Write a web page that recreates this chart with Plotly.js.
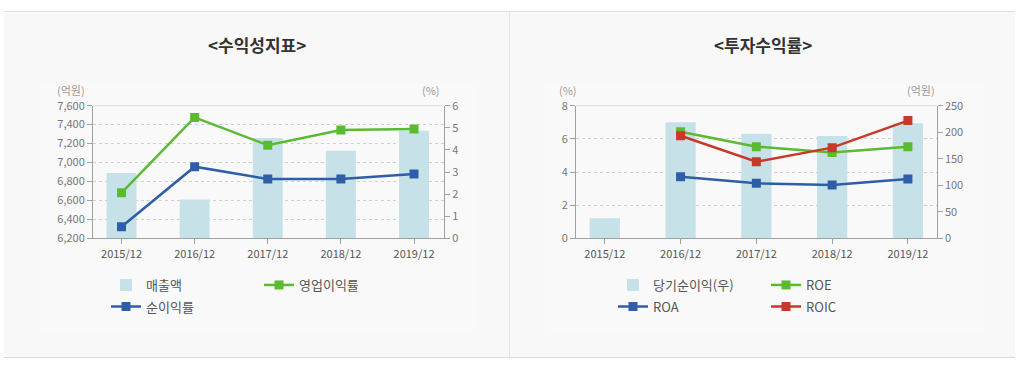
<!DOCTYPE html>
<html>
<head>
<meta charset="utf-8">
<script src="https://cdn.plot.ly/plotly-3.0.1.min.js"></script>
<style>html,body{margin:0;padding:0;background:#fff;}#chart{width:1023px;height:366px;}</style>
</head>
<body>
<div id="chart"></div>
<script>
// ---- data ----
var categories = ['2015/12', '2016/12', '2017/12', '2018/12', '2019/12'];
// 수익성지표
var sales = [6890, 6610, 7260, 7125, 7335];          // 매출액 (억원)
var opMargin = [2.06, 5.47, 4.21, 4.90, 4.95];       // 영업이익률 (%)
var netMargin = [0.52, 3.24, 2.68, 2.68, 2.91];      // 순이익률 (%)
// 투자수익률
var netIncome = [38, 219, 197, 193, 217];            // 당기순이익 (억원)
var roe = [null, 6.43, 5.53, 5.17, 5.53];
var roa = [null, 3.72, 3.32, 3.22, 3.58];
var roic = [null, 6.19, 4.62, 5.47, 7.10];

var W = 1023, H = 366;
function px(x) { return x / W; }
function py(y) { return 1 - y / H; }

var FONT = '"Noto Sans CJK KR", "Noto Sans", sans-serif';
var BAR = '#c6e2e8', GREEN = '#5bbb30', BLUE = '#2f5ea8', RED = '#c8392b';
var AX = '#a0a0a0';

function lineTrace(name, y, color, xa, ya, legend) {
  return {
    type: 'scatter', mode: 'lines+markers', name: name, x: categories, y: y,
    xaxis: xa, yaxis: ya, legend: legend,
    line: {color: color, width: 2.5},
    marker: {symbol: 'square', size: 9, color: color},
    connectgaps: false, hoverinfo: 'skip'
  };
}

var data = [
  {type: 'bar', name: '매출액', x: categories, y: sales, xaxis: 'x', yaxis: 'y',
   width: 0.41, marker: {color: BAR}, legend: 'legend', hoverinfo: 'skip'},
  lineTrace('영업이익률', opMargin, GREEN, 'x', 'y2', 'legend'),
  lineTrace('순이익률', netMargin, BLUE, 'x', 'y2', 'legend2'),

  {type: 'bar', name: '당기순이익(우)', x: categories, y: netIncome, xaxis: 'x2', yaxis: 'y3',
   width: 0.4, marker: {color: BAR}, legend: 'legend3', hoverinfo: 'skip'},
  lineTrace('ROE', roe, GREEN, 'x2', 'y4', 'legend3'),
  lineTrace('ROA', roa, BLUE, 'x2', 'y4', 'legend4'),
  lineTrace('ROIC', roic, RED, 'x2', 'y4', 'legend4')
];

var tickFont = {family: FONT, size: 11, color: '#777'};
var xTickFont = {family: FONT, size: 11, color: '#555'};
var yDom = [py(238.3), py(105.7)];

function xAxis(dom, range) {
  return {domain: dom, range: range, type: 'category', showgrid: false, zeroline: false,
    showline: true, linecolor: AX, linewidth: 1, ticks: 'outside', ticklen: 5,
    tickcolor: AX, tickfont: xTickFont, fixedrange: true};
}
function yAxis(opts) {
  var base = {domain: yDom, zeroline: false, showline: true, linecolor: AX, linewidth: 1,
    ticks: 'outside', ticklen: 5, tickcolor: AX, tickfont: tickFont, fixedrange: true,
    showgrid: false};
  for (var k in opts) base[k] = opts[k];
  return base;
}

var legendFont = {family: FONT, size: 13, color: '#555'};
function legendAt(x, y, ew) {
  return {orientation: 'h', x: px(x), y: py(y), xanchor: 'left', yanchor: 'middle',
    bgcolor: 'rgba(0,0,0,0)', borderwidth: 0, font: legendFont,
    entrywidth: ew, entrywidthmode: 'pixels', itemclick: false, itemdoubleclick: false,
    traceorder: 'normal'};
}

var layout = {
  width: W, height: H,
  margin: {l: 0, r: 0, t: 0, b: 0, pad: 0},
  paper_bgcolor: '#ffffff', plot_bgcolor: 'rgba(0,0,0,0)',
  font: {family: FONT, color: '#555'},
  showlegend: true,
  xaxis: xAxis([px(93), px(444)], [-0.39, 4.41]),
  yaxis: yAxis({range: [6200, 7600], dtick: 200, tick0: 6200, tickformat: ',d',
    showgrid: true, gridcolor: '#cfcfcf', griddash: 'dot', gridwidth: 1, anchor: 'x', side: 'left'}),
  yaxis2: yAxis({range: [0, 6], dtick: 1, overlaying: 'y', side: 'right', anchor: 'x'}),
  xaxis2: xAxis([px(576), px(936.7)], [-0.38, 4.38]),
  yaxis3: yAxis({range: [0, 250], dtick: 50, side: 'right', anchor: 'x2'}),
  yaxis4: yAxis({range: [0, 8], dtick: 2, overlaying: 'y3', side: 'left', anchor: 'x2',
    showgrid: true, gridcolor: '#cfcfcf', griddash: 'dot', gridwidth: 1}),
  legend: legendAt(106, 285, 108),
  legend2: legendAt(106, 306.5, 108),
  legend3: legendAt(613, 285, 108),
  legend4: legendAt(613, 306.5, 108),
  shapes: [
    {type: 'rect', xref: 'paper', yref: 'paper', x0: px(4), x1: px(1015), y0: py(358), y1: py(11),
     fillcolor: '#f8f8f8', line: {width: 0}, layer: 'below'},
    {type: 'rect', xref: 'paper', yref: 'paper', x0: px(40), x1: px(478), y0: py(331), y1: py(84),
     fillcolor: '#f9f9f9', line: {width: 0}, layer: 'below'},
    {type: 'rect', xref: 'paper', yref: 'paper', x0: px(545), x1: px(985), y0: py(331), y1: py(84),
     fillcolor: '#f9f9f9', line: {width: 0}, layer: 'below'},
    {type: 'line', xref: 'paper', yref: 'paper', x0: px(4), x1: px(1015), y0: py(11.5), y1: py(11.5),
     line: {color: '#e2e2e2', width: 1}},
    {type: 'line', xref: 'paper', yref: 'paper', x0: px(4), x1: px(1015), y0: py(357.5), y1: py(357.5),
     line: {color: '#dcdcdc', width: 1}},
    {type: 'line', xref: 'paper', yref: 'paper', x0: px(509.5), x1: px(509.5), y0: py(358), y1: py(11),
     line: {color: '#e2e2e2', width: 1}},
    {type: 'line', xref: 'paper', yref: 'paper', x0: px(93), x1: px(444), y0: py(105.7), y1: py(105.7),
     line: {color: '#dddddd', width: 1}, layer: 'below'},
    {type: 'line', xref: 'paper', yref: 'paper', x0: px(576), x1: px(936.7), y0: py(105.7), y1: py(105.7),
     line: {color: '#dddddd', width: 1}, layer: 'below'}
  ],
  annotations: [
    {text: '<b>&lt;수익성지표&gt;</b>', xref: 'paper', yref: 'paper', x: px(257), y: py(44),
     showarrow: false, xanchor: 'center', yanchor: 'middle', font: {family: FONT, size: 17, color: '#333'}},
    {text: '<b>&lt;투자수익률&gt;</b>', xref: 'paper', yref: 'paper', x: px(763), y: py(44),
     showarrow: false, xanchor: 'center', yanchor: 'middle', font: {family: FONT, size: 17, color: '#333'}},
    {text: '(억원)', xref: 'paper', yref: 'paper', x: px(70.5), y: py(90), showarrow: false,
     xanchor: 'center', yanchor: 'middle', font: {family: FONT, size: 11, color: '#999'}},
    {text: '(%)', xref: 'paper', yref: 'paper', x: px(431), y: py(90), showarrow: false,
     xanchor: 'center', yanchor: 'middle', font: {family: FONT, size: 11, color: '#999'}},
    {text: '(%)', xref: 'paper', yref: 'paper', x: px(568), y: py(90), showarrow: false,
     xanchor: 'center', yanchor: 'middle', font: {family: FONT, size: 11, color: '#999'}},
    {text: '(억원)', xref: 'paper', yref: 'paper', x: px(921), y: py(90), showarrow: false,
     xanchor: 'center', yanchor: 'middle', font: {family: FONT, size: 11, color: '#999'}}
  ]
};

Plotly.newPlot('chart', data, layout, {displayModeBar: false, staticPlot: true});
</script>
</body>
</html>
